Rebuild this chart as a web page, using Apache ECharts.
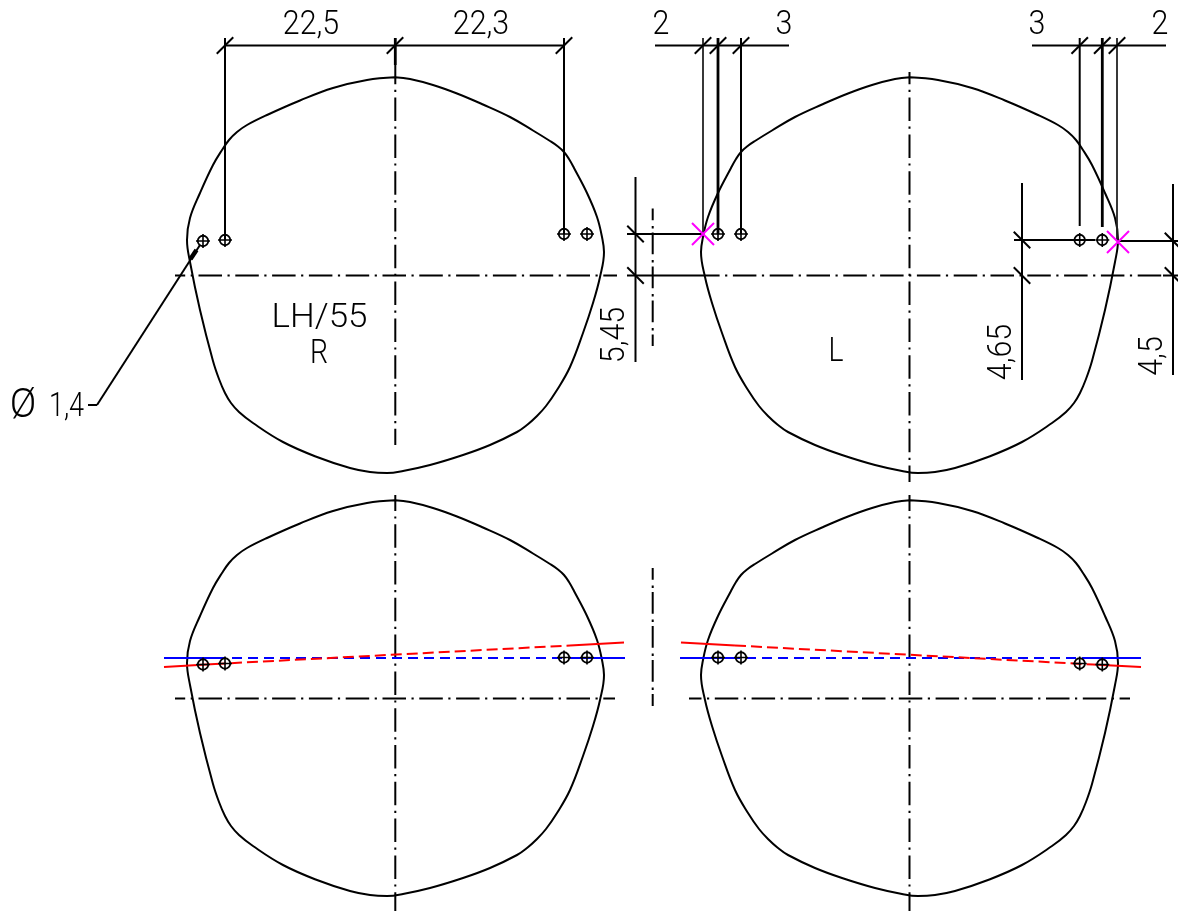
<!DOCTYPE html>
<html><head><meta charset="utf-8">
<style>html,body{margin:0;padding:0;background:#fff}#c{width:1178px;height:911px}</style>
<script src="https://cdn.jsdelivr.net/npm/echarts@6/dist/echarts.min.js"></script>
</head><body><div id="c"></div>
<script>
// Outline of the right-hand lens (clockwise from top centre), drawing units
const outlineR = [[395,77.3],[410,79],[433,85],[457,93.5],[483,104.5],[510,117],[533,130.5],[550,141],[558,146.5],[564,152],[569,159],[574,168],[587,193],[597,217],[602,237],[604,252],[600,277],[593,303],[583,333],[570,367],[557,390],[546,406],[537,416],[527,425],[517,432],[490,445],[463,455],[430,465],[403,471],[387,473],[370,472],[350,468],[317,457],[283,442],[253,423],[239,412],[231,403],[225,393],[219,379],[213,361],[200,310],[190,262],[187,240],[190,218],[200,193],[213,165],[222,150],[229,140],[237,132],[247,125],[267,115],[300,100.5],[333,88],[367,80],[395,77.3]];
const mirrorAxis = 1305;
const lowerShift = 423;
const solidSegments = [
 [225,38,225,240],[564,38,564,234],[225,45.5,564,45.5],
 [655,45.5,789,45.5],[741,38,741,234],
 [1032,45.5,1166,45.5],[1079.7,38,1079.7,226],
 [627,234,703,234],[635.5,177,635.5,362],[627,275.5,713,275.5],
 [1022,183,1022,380],[1014,240,1095,240],[1118,241,1178,241],[1173,184,1173,375],
 [1163,275.5,1178,275.5],
 [88,405,97,405],[97,405,200,245]
];
const heavySegments = [[395.3,38,395.3,65],[718,38,718,234],[1102.3,38,1102.3,227]];
const lightSegments = [[703,38,703,234],[1117,38,1117,241]];
const arrowHead = [[190.5,259,196.5,250]];
const centreLines = [
 // x1,y1,x2,y2,dash offset
 [175,275.5,617,275.5,13.3],[713,275.5,1163,275.5,16.9],
 [395.3,65,395.3,445,4.2],[909.5,72,909.5,482,11.2],
 [175,698.5,615,698.5,13.3],[689,698.5,1130,698.5,11],
 [395.3,495,395.3,911,7.6],[909.5,495,909.5,911,7.6]
];
const shortCentreLines = [[652.7,208.5,652.7,346,10],[652.7,568,652.7,706,10]];
const blueSolid = [[164,658,216,658],[575,658,625,658],[680,658,730,658],[1090,658,1141,658]];
const blueDashed = [[216,658,575,658],[730,658,1090,658]];
const redSolid = [[164,667,215,664],[570,645.5,624,642.5],[681,642.5,735,645.5],[1093,664.5,1141,667]];
const redDashed = [[215,664,570,645.5],[735,645.5,1093,664.5]];
const holes = [[203,241],[225,240],[564,234],[587,234],[718,234],[741,234],[1079.7,240],[1102.3,240],
 [203,664.5],[225,663.5],[564,657.5],[587,657.5],[718,657.5],[741,657.5],[1079.7,663.5],[1102.3,664.5]];
const crosses = [[703,234],[1118,242]];
const ticksForward = [[225,45.5],[395,45.5],[564,45.5],[703,45.5],[718,45.5],[741,45.5],[1079.7,45.5],[1102.3,45.5],[1117,45.5]];
const ticksBack = [[635.5,234],[635.5,275.5],[1022,240],[1022,275.5],[1173,241],[1173,275.5]];
const labelTexts = ['22,5','22,3','2','3','3','2','LH/55','R','L','5,45','4,65','4,5','\u00d8','1,4'];
// placement of each label: x, y, rotation, horizontal scale, font size
const labelPlacement = [
 [311,26,0,.92,33],[481,26,0,.92,33],[661,26,0,.92,33],[784,26,0,.92,33],[1037,26,0,.92,33],[1160,26,0,.92,33],
 [319.5,319,0,1.06,33],[319,355,0,.86,33],[836,353,0,.86,33],
 [616,335,90,.92,33],[1003,352,90,.92,33],[1154,356,90,.92,33],
 [23,407,0,.98,40],[66.5,408,0,.82,33]
];

const seg = (s, color, width, dash, offset) => ({
  type:'line', coordinateSystem:'cartesian2d', symbol:'none', silent:true, animation:false, z:2,
  data:[[s[0],s[1]],[s[2],s[3]]],
  lineStyle:{color:color,width:width,type:dash||'solid',dashOffset:offset||0,cap:'butt'}
});
const outline = (pts) => ({
  type:'line', symbol:'none', smooth:0.4, silent:true, animation:false, z:2, data:pts,
  lineStyle:{color:'#000',width:2}
});
const mark = (pts, path, size, color, w) => ({
  type:'scatter', data:pts, symbol:path, symbolSize:size, silent:true, animation:false, z:3,
  itemStyle:{color:'none',borderColor:color,borderWidth:w,opacity:1}
});
const CENTRE_DASH=[23.5,5.5,2.2,5.6];
const SHORT_DASH=[21.8,5.8,2.4,4];
const series = [
 outline(outlineR),
 outline(outlineR.map(p=>[mirrorAxis-p[0],p[1]])),
 outline(outlineR.map(p=>[p[0],p[1]+lowerShift])),
 outline(outlineR.map(p=>[mirrorAxis-p[0],p[1]+lowerShift])),
 ...solidSegments.map(s=>seg(s,'#000',2)),
 ...heavySegments.map(s=>seg(s,'#000',2.8)),
 ...lightSegments.map(s=>seg(s,'#222',1.8)),
 ...arrowHead.map(s=>seg(s,'#000',4.5)),
 ...centreLines.map(s=>seg(s,'#000',2,CENTRE_DASH,s[4])),
 ...shortCentreLines.map(s=>seg(s,'#000',2,SHORT_DASH,s[4])),
 ...blueSolid.map(s=>seg(s,'#0000ff',2)),
 ...blueDashed.map(s=>seg(s,'#0000ff',2,[10,6])),
 ...redSolid.map(s=>seg(s,'#ff0000',2)),
 ...redDashed.map(s=>seg(s,'#ff0000',2,[11,5])),
 mark(holes,'circle',10.5,'#000',1.8),
 mark(holes,'path://M0 7H14M7 0V14',14,'#000',1.6),
 mark(crosses,'path://M0 0L22 22M0 22L22 0',22,'#ff00ff',2),
 mark(ticksForward,'path://M0 16L16 0',16.5,'#000',2),
 mark(ticksBack,'path://M0 0L16 16',16.5,'#000',2),
 {type:'custom', silent:true, animation:false, z:4, data:labelPlacement.map(l=>[l[0],l[1]]),
  encode:{x:0,y:1},
  renderItem:(p,api)=>{
    const pl=labelPlacement[p.dataIndex];
    const pt=api.coord([pl[0],pl[1]]);
    return {type:'text',x:pt[0],y:pt[1],rotation:pl[2]*Math.PI/180,scaleX:pl[3],
      style:{text:labelTexts[p.dataIndex],fontFamily:'Roboto',fontWeight:300,fontSize:pl[4],fill:'#000',align:'center',verticalAlign:'middle'}};
  }}
];
const chart = echarts.init(document.getElementById('c'));
chart.setOption({
  animation:false, backgroundColor:'#fff',
  grid:{left:0,right:0,top:0,bottom:0},
  xAxis:{type:'value',min:0,max:1178,show:false},
  yAxis:{type:'value',min:0,max:911,inverse:true,show:false},
  series
});
</script></body></html>
